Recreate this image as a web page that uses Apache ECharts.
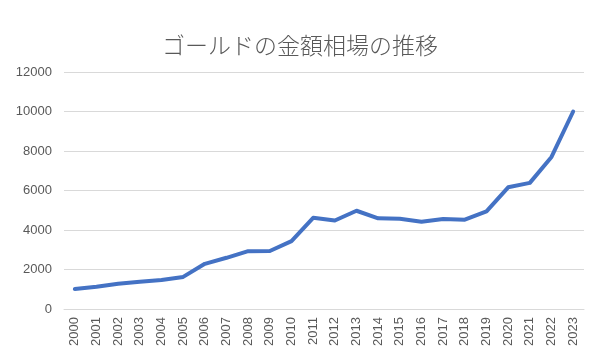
<!DOCTYPE html>
<html><head><meta charset="utf-8">
<script src="https://cdn.jsdelivr.net/npm/echarts@6/dist/echarts.min.js"></script>
<style>html,body{margin:0;padding:0;background:#fff}#c{width:600px;height:357px}</style>
</head><body><div id="c"></div>
<script>
const titleText = 'ゴールドの金額相場の推移';
const years = ['2000','2001','2002','2003','2004','2005','2006','2007','2008','2009','2010','2011','2012','2013','2014','2015','2016','2017','2018','2019','2020','2021','2022','2023'];
const prices = [1014,1124,1283,1385,1473,1625,2288,2593,2929,2938,3440,4615,4479,4975,4590,4569,4421,4558,4520,4940,6162,6387,7699,10000];
const yMin = 0, yMax = 12000, yStep = 2000;

const chart = echarts.init(document.getElementById('c'), null, {renderer:'canvas'});
chart.setOption({
  animation:false,
  backgroundColor:'#ffffff',
  title:{text:titleText,left:'center',top:29,textStyle:{fontFamily:'Noto Sans CJK JP',fontWeight:300,fontSize:23,color:'#595959'}},
  grid:{left:64,right:16,top:72,bottom:48,containLabel:false},
  xAxis:{type:'category',data:years,boundaryGap:true,
    axisLine:{lineStyle:{color:'#d9d9d9',width:1}},axisTick:{show:false},
    axisLabel:{rotate:90,margin:8,interval:0,color:'#595959',fontSize:13,fontFamily:'Liberation Sans'}},
  yAxis:{type:'value',min:yMin,max:yMax,interval:yStep,
    axisLine:{show:false},axisTick:{show:false},
    splitLine:{lineStyle:{color:'#d9d9d9',width:1}},
    axisLabel:{margin:12,color:'#595959',fontSize:13,fontFamily:'Liberation Sans',formatter:v=>String(v)}},
  series:[{type:'line',data:prices,symbol:'none',lineStyle:{color:'#4472C4',width:4,cap:'round',join:'round'}}]
});
</script></body></html>
